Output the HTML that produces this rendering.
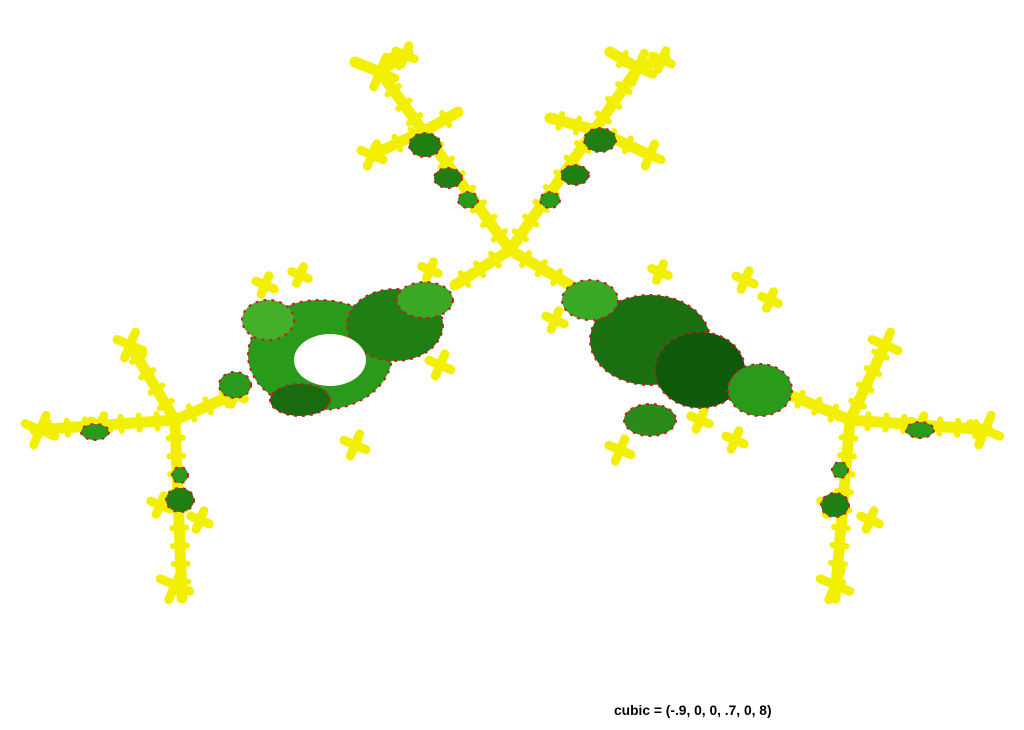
<!DOCTYPE html>
<html><head><meta charset="utf-8"><style>
html,body{margin:0;padding:0;background:#fff;width:1024px;height:730px;overflow:hidden}
svg{display:block}
text{font-family:"Liberation Sans",sans-serif;font-weight:bold;font-size:13.8px}
</style></head><body>
<svg id="s" width="1024" height="730" viewBox="0 0 1024 730">
<g id="yel" stroke="#f2f000" stroke-linecap="round" fill="none"></g>
<g id="grn"></g>
<text x="614" y="715">cubic = (-.9, 0, 0, .7, 0, 8)</text>
</svg>
<script>
const NS='http://www.w3.org/2000/svg';
const yel=document.getElementById('yel'),grn=document.getElementById('grn');
const branches=[
[[175,420],[35,430]],[[175,420],[130,345]],[[175,420],[182,598]],[[175,420],[240,392]],
[[850,420],[988,430]],[[850,420],[885,345]],[[850,420],[835,598]],[[850,420],[790,395]],
[[510,250],[380,72]],[[380,72],[408,52]],[[380,72],[355,62]],[[430,128],[372,155]],[[430,128],[458,112]],
[[510,250],[638,68]],[[638,68],[610,52]],[[638,68],[665,58]],[[595,130],[550,118]],[[595,130],[650,155]],
[[510,250],[570,285]],[[510,250],[455,285]]
];
const flowers=[[40,430,16],[130,345,14],[175,585,16],[235,395,10],[985,430,16],[885,345,14],[835,585,16],
[380,72,16],[405,55,10],[638,68,16],[662,60,10],[372,155,12],[650,155,12],[160,505,10],[200,520,10],
[830,505,10],[870,520,10],[265,285,10],[355,445,12],[440,365,12],[620,450,12],[745,280,10],[700,420,10],
[100,425,10],[920,425,10],[555,320,10],[735,440,10],[300,275,9],[430,270,9],[660,272,9],[770,300,9]];
function line(x1,y1,x2,y2,w,nm){const l=document.createElementNS(NS,'line');

l.setAttribute('x1',x1);l.setAttribute('y1',y1);l.setAttribute('x2',x2);l.setAttribute('y2',y2);
l.setAttribute('stroke-width',w);yel.appendChild(l);}
for(const b of branches){line(b[0][0],b[0][1],b[1][0],b[1][1],11,'yellow-branch');
const dx=b[1][0]-b[0][0],dy=b[1][1]-b[0][1],L=Math.hypot(dx,dy),nx=-dy/L,ny=dx/L;
for(let t=18;t<L-10;t+=18){const px=b[0][0]+dx*t/L,py=b[0][1]+dy*t/L,s=7;
line(px-nx*s,py-ny*s,px+nx*s,py+ny*s,6,'yellow-leaf');}}
for(const f of flowers){for(let k=0;k<4;k++){const a=k*Math.PI/2+0.4;
line(f[0],f[1],f[0]+Math.cos(a)*f[2],f[1]+Math.sin(a)*f[2],9,'yellow-petal');}}
const blobs=[
[320,355,72,55,'#2a9a1a'],[395,325,48,36,'#1f7f12'],[425,300,28,18,'#3aa824'],[268,320,26,20,'#44b02a'],
[330,360,36,26,'#ffffff'],[300,400,30,16,'#1a6a10'],[235,385,16,13,'#2a9a1a'],
[650,340,60,45,'#1a7010'],[700,370,45,38,'#0f5a0a'],[760,390,32,26,'#2a9a1a'],[590,300,28,20,'#3aa824'],[650,420,26,16,'#2a8a1a'],
[425,145,16,12,'#1f7f12'],[448,178,14,10,'#1f7f12'],[468,200,10,8,'#2a9a1a'],[600,140,16,12,'#1f7f12'],[575,175,14,10,'#1f7f12'],[550,200,10,8,'#2a9a1a'],
[95,432,14,8,'#2a9a1a'],[180,500,14,12,'#1f7f12'],[920,430,14,8,'#2a9a1a'],[835,505,14,12,'#1f7f12'],[180,475,8,8,'#2a9a1a'],[840,470,8,8,'#2a9a1a']
];
for(const b of blobs){const e=document.createElementNS(NS,'ellipse');

e.setAttribute('cx',b[0]);e.setAttribute('cy',b[1]);e.setAttribute('rx',b[2]);e.setAttribute('ry',b[3]);e.setAttribute('fill',b[4]);
if(b[4]!=='#ffffff'){e.setAttribute('stroke','#c02020');e.setAttribute('stroke-width','2');e.setAttribute('stroke-dasharray','3 5');}
grn.appendChild(e);}
</script>
</body></html>
